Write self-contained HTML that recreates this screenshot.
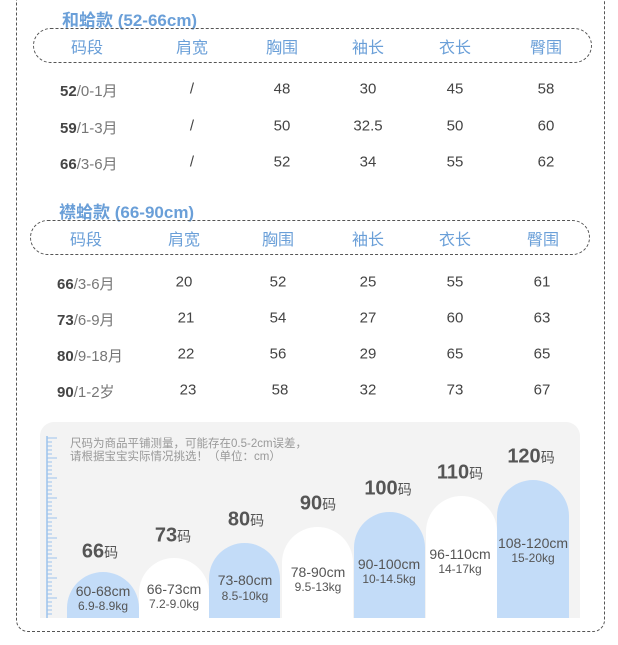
<!DOCTYPE html>
<html><head><meta charset="utf-8"><style>
*{margin:0;padding:0;box-sizing:border-box}
body{width:618px;height:645px;background:#fff;position:relative;overflow:hidden;font-family:"Liberation Sans","Noto Sans CJK SC",sans-serif;color:#444}
.a{position:absolute;white-space:nowrap}
.c{position:absolute;white-space:nowrap;transform:translate(-50%,-50%)}
.t{color:#6a9fd8;font-size:17px;font-weight:bold}
.h{color:#6a9fd8;font-size:16px}
.v{font-size:15px;color:#444}
.r{font-size:15px;color:#777}.r b{color:#444}
.pill{position:absolute;border:1.2px dashed #555;border-radius:18px}
.bar{position:absolute;border-radius:36px 36px 0 0}
.bl{background:#c3dcf8}.wh{background:#fff}
.s{font-size:20px;font-weight:bold;color:#555}.s span{font-size:14px;font-weight:normal}
.cm{font-size:14px;color:#555}.kg{font-size:12px;color:#555}
</style></head><body>
<div class="a" style="left:16px;top:-20px;width:589px;height:652px;border:1.2px dashed #555;border-top:none;border-radius:0 0 12px 12px"></div>

<div class="a t" style="left:62px;top:6px">和蛤款 (52-66cm)</div>
<div class="pill" style="left:33px;top:28px;width:559px;height:35px"></div>
<div class="c h" style="left:87px;top:46px">码段</div><div class="c h" style="left:192px;top:46px">肩宽</div><div class="c h" style="left:282px;top:46px">胸围</div><div class="c h" style="left:368px;top:46px">袖长</div><div class="c h" style="left:455px;top:46px">衣长</div><div class="c h" style="left:546px;top:46px">臀围</div>

<div class="a r" style="left:60px;top:80px"><b>52</b>/0-1月</div><div class="c v" style="left:192px;top:89px">/</div><div class="c v" style="left:282px;top:89px">48</div><div class="c v" style="left:368px;top:89px">30</div><div class="c v" style="left:455px;top:89px">45</div><div class="c v" style="left:546px;top:89px">58</div>
<div class="a r" style="left:60px;top:117px"><b>59</b>/1-3月</div><div class="c v" style="left:192px;top:126px">/</div><div class="c v" style="left:282px;top:126px">50</div><div class="c v" style="left:368px;top:126px">32.5</div><div class="c v" style="left:455px;top:126px">50</div><div class="c v" style="left:546px;top:126px">60</div>
<div class="a r" style="left:60px;top:153px"><b>66</b>/3-6月</div><div class="c v" style="left:192px;top:162px">/</div><div class="c v" style="left:282px;top:162px">52</div><div class="c v" style="left:368px;top:162px">34</div><div class="c v" style="left:455px;top:162px">55</div><div class="c v" style="left:546px;top:162px">62</div>

<div class="a t" style="left:59px;top:198px">襟蛤款 (66-90cm)</div>
<div class="pill" style="left:30px;top:220px;width:560px;height:35px"></div>
<div class="c h" style="left:86px;top:238px">码段</div><div class="c h" style="left:184px;top:238px">肩宽</div><div class="c h" style="left:278px;top:238px">胸围</div><div class="c h" style="left:368px;top:238px">袖长</div><div class="c h" style="left:455px;top:238px">衣长</div><div class="c h" style="left:543px;top:238px">臀围</div>

<div class="a r" style="left:57px;top:273px"><b>66</b>/3-6月</div><div class="c v" style="left:184px;top:282px">20</div><div class="c v" style="left:278px;top:282px">52</div><div class="c v" style="left:368px;top:282px">25</div><div class="c v" style="left:455px;top:282px">55</div><div class="c v" style="left:542px;top:282px">61</div>
<div class="a r" style="left:57px;top:309px"><b>73</b>/6-9月</div><div class="c v" style="left:186px;top:318px">21</div><div class="c v" style="left:278px;top:318px">54</div><div class="c v" style="left:368px;top:318px">27</div><div class="c v" style="left:455px;top:318px">60</div><div class="c v" style="left:542px;top:318px">63</div>
<div class="a r" style="left:57px;top:345px"><b>80</b>/9-18月</div><div class="c v" style="left:186px;top:354px">22</div><div class="c v" style="left:278px;top:354px">56</div><div class="c v" style="left:368px;top:354px">29</div><div class="c v" style="left:455px;top:354px">65</div><div class="c v" style="left:542px;top:354px">65</div>
<div class="a r" style="left:57px;top:381px"><b>90</b>/1-2岁</div><div class="c v" style="left:188px;top:390px">23</div><div class="c v" style="left:280px;top:390px">58</div><div class="c v" style="left:368px;top:390px">32</div><div class="c v" style="left:455px;top:390px">73</div><div class="c v" style="left:542px;top:390px">67</div>

<div class="a" style="left:40px;top:422px;width:540px;height:196px;background:#f3f3f3;border-radius:14px 14px 0 0"></div>
<svg class="a" style="left:46px;top:436px" width="14" height="182">
<line x1="1" y1="0" x2="1" y2="182" stroke="#9cc3ec" stroke-width="1.5"/>
<g stroke="#9cc3ec" stroke-width="1">
<path d="M1 2h10M1 6h5M1 10h5M1 14h5M1 18h5M1 22h10M1 26h5M1 30h5M1 34h5M1 38h5M1 42h10M1 46h5M1 50h5M1 54h5M1 58h5M1 62h10M1 66h5M1 70h5M1 74h5M1 78h5M1 82h10M1 86h5M1 90h5M1 94h5M1 98h5M1 102h10M1 106h5M1 110h5M1 114h5M1 118h5M1 122h10M1 126h5M1 130h5M1 134h5M1 138h5M1 142h10M1 146h5M1 150h5M1 154h5M1 158h5M1 162h10M1 166h5M1 170h5M1 174h5M1 178h5"/></g></svg>
<div class="a" style="left:70px;top:438px;font-size:11.5px;color:#999;line-height:13px">尺码为商品平铺测量，可能存在0.5-2cm误差，<br>请根据宝宝实际情况挑选！（单位：cm）</div>

<div class="bar bl" style="left:67px;top:572px;width:72px;height:46px"></div>
<div class="bar wh" style="left:139px;top:558px;width:70px;height:60px"></div>
<div class="bar bl" style="left:209px;top:543px;width:71px;height:75px"></div>
<div class="bar wh" style="left:282px;top:527px;width:71px;height:91px"></div>
<div class="bar bl" style="left:354px;top:512px;width:71px;height:106px"></div>
<div class="bar wh" style="left:426px;top:496px;width:71px;height:122px"></div>
<div class="bar bl" style="left:497px;top:480px;width:72px;height:138px"></div>

<div class="c s" style="left:100px;top:552px">66<span>码</span></div>
<div class="c s" style="left:173px;top:536px">73<span>码</span></div>
<div class="c s" style="left:246px;top:520px">80<span>码</span></div>
<div class="c s" style="left:318px;top:504px">90<span>码</span></div>
<div class="c s" style="left:388px;top:489px">100<span>码</span></div>
<div class="c s" style="left:460px;top:473px">110<span>码</span></div>
<div class="c s" style="left:531px;top:457px">120<span>码</span></div>

<div class="c cm" style="left:103px;top:591px">60-68cm</div><div class="c kg" style="left:103px;top:606px">6.9-8.9kg</div>
<div class="c cm" style="left:174px;top:589px">66-73cm</div><div class="c kg" style="left:174px;top:604px">7.2-9.0kg</div>
<div class="c cm" style="left:245px;top:580px">73-80cm</div><div class="c kg" style="left:245px;top:596px">8.5-10kg</div>
<div class="c cm" style="left:318px;top:572px">78-90cm</div><div class="c kg" style="left:318px;top:587px">9.5-13kg</div>
<div class="c cm" style="left:389px;top:564px">90-100cm</div><div class="c kg" style="left:389px;top:579px">10-14.5kg</div>
<div class="c cm" style="left:460px;top:554px">96-110cm</div><div class="c kg" style="left:460px;top:569px">14-17kg</div>
<div class="c cm" style="left:533px;top:543px">108-120cm</div><div class="c kg" style="left:533px;top:558px">15-20kg</div>
</body></html>
